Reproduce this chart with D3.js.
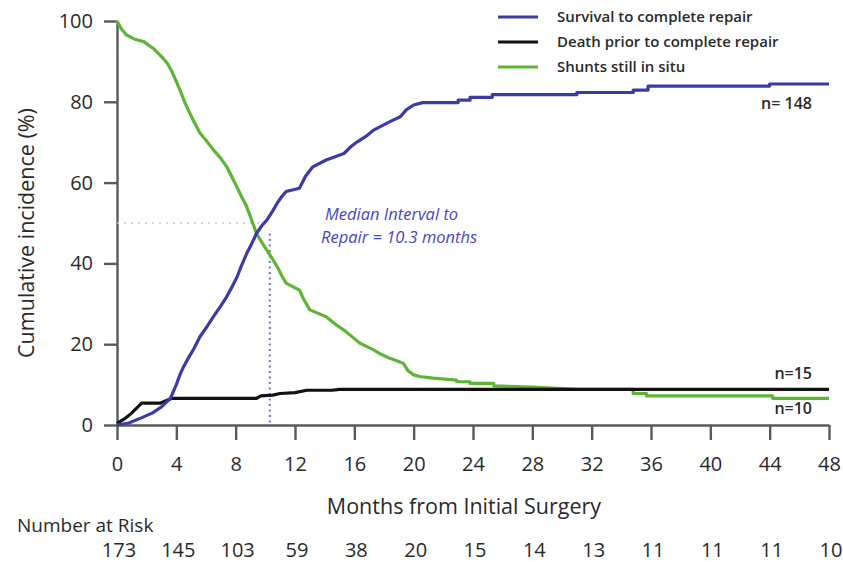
<!DOCTYPE html>
<html>
<head>
<meta charset="utf-8">
<script src="https://cdn.jsdelivr.net/npm/d3@7"></script>
<style>
  body { margin: 0; background: #fff; }
  svg text { font-family: "Open Sans", "DejaVu Sans", sans-serif; fill: #2a2a2a; }
</style>
</head>
<body>
<svg id="chart" width="843" height="562"></svg>
<script>
// values: [month, cumulative %]
const repair = [[0,0],[0.8,0.5],[1.6,1.7],[2.4,3],[3.0,4.5],[3.6,6.6],[4.0,10],[4.25,12.5],[4.5,14.5],[4.8,16.5],
  [5.2,19],[5.6,21.9],[6.0,24],[6.5,26.8],[7.0,29.5],[7.4,31.8],[7.8,34.5],[8.1,36.7],[8.4,39.5],[8.75,42.5],
  [9.1,45],[9.4,47.4],[9.8,49.5],[10.1,50.7],[10.5,53],[10.8,54.9],[11.1,56.5],[11.4,57.8],[12.3,58.6],[12.7,61.5],
  [13.2,63.9],[14.1,65.6],[15.3,67.2],[15.8,69],[16.2,70.1],[16.8,71.5],[17.3,73],[18.4,75.1],[19.1,76.3],[19.5,78],
  [20,79.2],[20.6,79.8],[23.0,79.8],[23.0,80.4],[23.8,80.4],[23.8,81.1],[25.3,81.1],[25.3,81.8],[31,81.8],[31,82.3],
  [34.8,82.3],[34.8,82.9],[35.8,82.9],[35.8,83.9],[44,83.9],[44,84.4],[48,84.4]]
const death = [[0,0.4],[0.5,1.5],[1.0,3],[1.66,5.4],[2.9,5.4],[3.7,6.6],[9.4,6.6],[9.7,7.2],[10.5,7.4],[11,7.8],
  [12.0,8.0],[12.8,8.6],[14.5,8.6],[15,8.8],[48,8.8]]
const shunts = [[0,100],[0.3,98],[0.65,96.5],[1.2,95.5],[1.8,94.9],[2.45,93.2],[3.1,90.8],[3.4,89.5],[3.7,87.5],[4.0,85],
  [4.25,82.9],[4.5,80.5],[4.8,78],[5.2,75],[5.6,72.2],[6.0,70.5],[6.5,68.1],[7.0,66],[7.4,63.9],[7.8,61],[8.07,59],
  [8.4,56.5],[8.75,54],[9.1,50.5],[9.4,47.4],[9.8,45],[10.1,43.3],[10.5,41],[10.8,39.2],[11.1,37],[11.4,35.1],
  [12.3,33.4],[12.6,31],[13,28.5],[14.1,26.8],[14.7,25],[15.3,23.5],[15.8,22],[16.4,20.2],[17.3,18.6],[17.8,17.5],
  [18.4,16.5],[19.3,15.3],[19.6,13.5],[20,12.4],[20.4,12],[21.3,11.6],[22.9,11.1],[22.9,10.7],[23.8,10.7],[23.8,10.3],
  [25.4,10.3],[25.4,9.7],[28,9.4],[31,8.8],[34.8,8.8],[34.8,7.8],[35.7,7.8],[35.7,7.2],[44.2,7.2],[44.2,6.6],[48,6.6]]

const xTicks = [0,4,8,12,16,20,24,28,32,36,40,44,48]
const yTicks = [0,20,40,60,80,100]
const atRisk = [173,145,103,59,38,20,15,14,13,11,11,11,10]

const seriesNames = ["Survival to complete repair", "Death prior to complete repair", "Shunts still in situ"]
const seriesColors = ["#3b3ba6", "#111111", "#5db536"]

const medianMonth = 10.3

var svg = d3.select("#chart")
var x = d3.scaleLinear().domain([0, 48]).range([117, 829])
var y = d3.scaleLinear().domain([0, 100]).range([425, 21])

// axes
var xAxis = svg.append("g").attr("transform", "translate(0,425)")
  .call(d3.axisBottom(x).tickValues(xTicks).tickSize(15).tickSizeOuter(0).tickPadding(17))
var yAxis = svg.append("g").attr("transform", "translate(117,0)")
  .call(d3.axisLeft(y).tickValues(yTicks).tickSize(13).tickSizeOuter(0).tickPadding(11))

;[xAxis, yAxis].forEach(function (g) {
  g.selectAll("path, line").attr("stroke", "#5a5a5a").attr("stroke-width", 2.4)
  g.selectAll("text").style("font-size", "20px").attr("fill", "#222")
})

// dotted median guides
svg.append("line")
  .attr("x1", x(0)).attr("x2", x(9.8)).attr("y1", y(50)).attr("y2", y(50))
  .attr("stroke", "#c4c4ea").attr("stroke-width", 1.6).attr("stroke-dasharray", "2,5")
svg.append("line")
  .attr("x1", x(medianMonth)).attr("x2", x(medianMonth)).attr("y1", y(47.4)).attr("y2", y(0))
  .attr("stroke", "#6f6fd4").attr("stroke-width", 2).attr("stroke-dasharray", "2,3.5")

// curves
var line = d3.line().x(d => x(d[0])).y(d => y(d[1])).curve(d3.curveLinear)
;[shunts, death, repair].forEach(function (s, i) {
  var c = [seriesColors[2], seriesColors[1], seriesColors[0]][i]
  svg.append("path").datum(s).attr("d", line)
    .attr("fill", "none").attr("stroke", c).attr("stroke-width", 3.2).attr("stroke-linejoin", "round")
})

// legend
var leg = svg.append("g")
seriesNames.forEach(function (n, i) {
  var ly = 17 + i * 25
  leg.append("line").attr("x1", 498).attr("x2", 538).attr("y1", ly).attr("y2", ly)
    .attr("stroke", seriesColors[i]).attr("stroke-width", 3)
  leg.append("text").attr("x", 557).attr("y", ly + 5).text(n)
    .style("font-size", "15px").style("font-weight", "600")
})

// annotation
svg.append("text").attr("x", 325).attr("y", 220).text("Median Interval to")
  .style("font-size", "16.5px").style("font-style", "italic").style("fill", "#4747c2")
svg.append("text").attr("x", 321).attr("y", 243).text("Repair = 10.3 months")
  .style("font-size", "16.5px").style("font-style", "italic").style("fill", "#4747c2")

// end counts
;[["n= 148", 109], ["n=15", 379], ["n=10", 414]].forEach(function (d) {
  svg.append("text").attr("x", 812).attr("y", d[1]).attr("text-anchor", "end").text(d[0])
    .style("font-size", "16px").style("font-weight", "600")
})

// axis titles
svg.append("text").attr("x", 464).attr("y", 514).attr("text-anchor", "middle")
  .text("Months from Initial Surgery").style("font-size", "21.5px")
svg.append("text").attr("transform", "translate(34,233) rotate(-90)").attr("text-anchor", "middle")
  .text("Cumulative incidence (%)").style("font-size", "21.5px")

// number at risk
svg.append("text").attr("x", 17).attr("y", 532).text("Number at Risk")
  .style("font-size", "19px")
svg.selectAll(".risk").data(atRisk).enter().append("text")
  .attr("x", (d, i) => x(xTicks[i]) + 2).attr("y", 557).attr("text-anchor", "middle")
  .text(d => d).style("font-size", "20px")
</script>
</body>
</html>
